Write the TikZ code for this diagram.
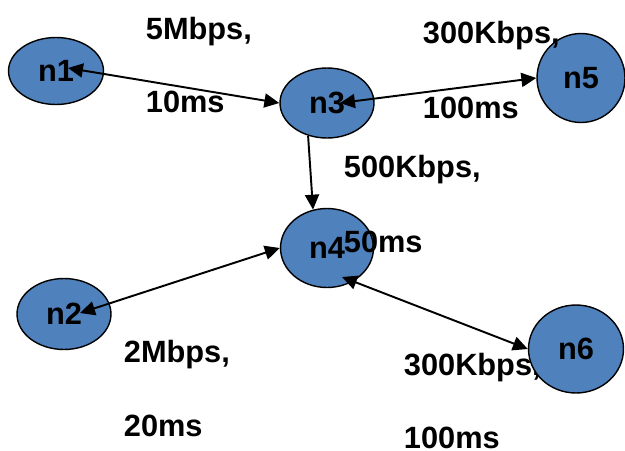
\documentclass[tikz,border=0pt]{standalone}
\usepackage{fontspec}
\setmainfont{Liberation Sans}
\usetikzlibrary{arrows.meta,shapes.geometric}
\definecolor{nodeblue}{RGB}{79,129,189}
\tikzset{host/.style={ellipse,draw,line width=0.8pt,fill=nodeblue,inner sep=0pt},
  lbl/.style={anchor=base west,inner sep=0pt}}

\begin{document}
\begin{tikzpicture}[x=0.02cm,y=-0.02cm,>={Triangle[length=8.5pt,width=8pt]},line width=1.1pt,font=\fontsize{17.5}{20}\selectfont\bfseries]
\useasboundingbox (0,0) rectangle (625,450);
% --- hosts
\node[host,minimum width=1.9cm,minimum height=1.34cm] (n1) at (56,71) {n1};
\node[host,minimum width=1.88cm,minimum height=1.42cm] (n2) at (64,314) {n2};
\node[host,minimum width=1.88cm,minimum height=1.4cm] (n3) at (327,103) {n3};
\node[host,minimum width=1.86cm,minimum height=1.58cm] (n4) at (327,248) {n4};
\node[host,minimum width=1.76cm,minimum height=1.78cm] (n5) at (581,78) {n5};
% --- link labels: bandwidth, delay
\node[lbl] (bw13) at (145,39) {5Mbps,};
\node[lbl] (dl13) at (145,112) {10ms};
\node[lbl] (bw35) at (422,43) {300Kbps,};
\node[lbl] (dl35) at (422,118) {100ms};
\node[lbl] (bw34) at (343,177) {500Kbps,};
\node[lbl] (dl34) at (343,252) {50ms};
\node[lbl] (bw24) at (123,362) {2Mbps,};
\node[lbl] (dl24) at (123,436) {20ms};
\node[lbl] (bw46) at (403,375) {300Kbps,};
\node[lbl] (dl46) at (403,448) {100ms};
\node[host,minimum width=1.9cm,minimum height=1.76cm] (n6) at (576,349) {n6};
% --- links
\draw[<->] ([shift={(12,-3)}]n1.center) -- (n3.west);
\draw[<->] ([shift={(13,0)}]n3.center) -- (n5.west);
\draw[->] (n3.240) -- (n4.110);
\draw[<->] ([shift={(16,-1)}]n2.center) -- (n4.west);
\draw[<->] ([shift={(15,29)}]n4.center) -- (n6.west);
\end{tikzpicture}
\end{document}
